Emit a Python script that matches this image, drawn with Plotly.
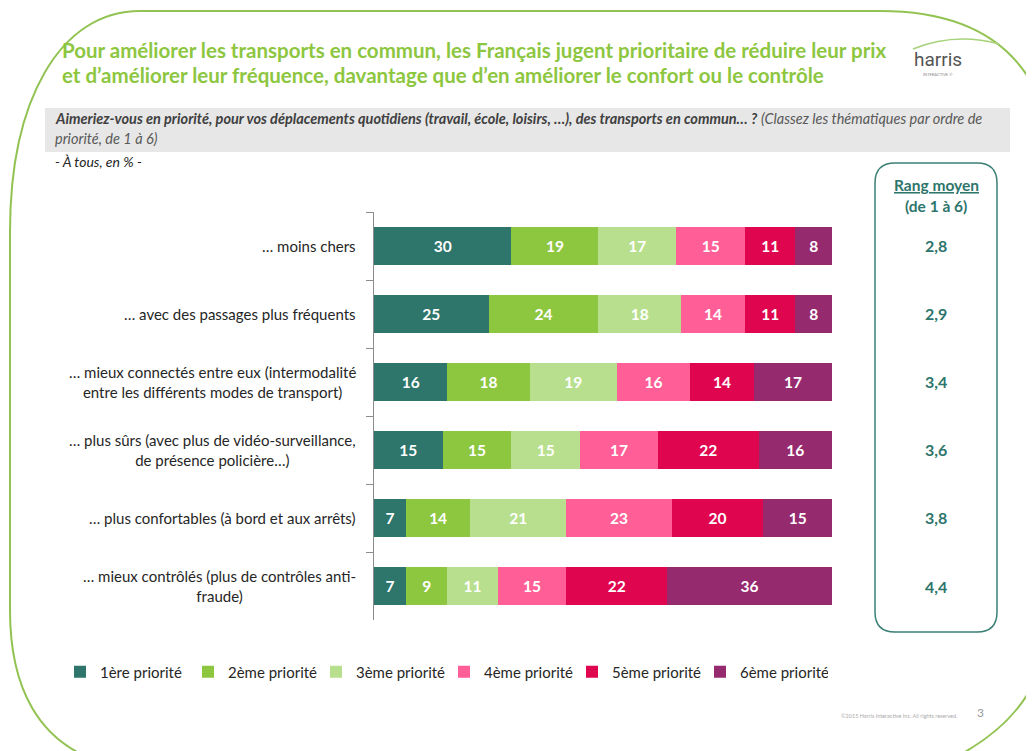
import plotly.graph_objects as go

# page is rendered with an 8px body margin: figure fills the rest of the window
OFF = 8
W, H = 1034 - OFF, 751 - OFF

categories = [
    "… moins chers",
    "… avec des passages plus fréquents",
    "… mieux connectés entre eux (intermodalité<br>entre les différents modes de transport)",
    "… plus sûrs (avec plus de vidéo-surveillance,<br>de présence policière…)",
    "… plus confortables (à bord et aux arrêts)",
    "… mieux contrôlés (plus de contrôles anti-<br>fraude)",
]
series_names = ["1ère priorité", "2ème priorité", "3ème priorité",
                "4ème priorité", "5ème priorité", "6ème priorité"]
p1 = [30, 25, 16, 15, 7, 7]
p2 = [19, 24, 18, 15, 14, 9]
p3 = [17, 18, 19, 15, 21, 11]
p4 = [15, 14, 16, 17, 23, 15]
p5 = [11, 11, 14, 22, 20, 22]
p6 = [8, 8, 17, 16, 15, 36]
rang_moyen = ["2,8", "2,9", "3,4", "3,6", "3,8", "4,4"]

colors = ["#2E756B", "#8DC63F", "#B8DF8E", "#FF5F96", "#E0054F", "#962A6E"]
FONT = "Lato"
TEAL = "#2E756B"
cat_keys = [f"c{i}" for i in range(len(categories))]


def px(x):
    return (x - OFF) / W


def py(y):
    return 1 - (y - OFF) / H


def path(cmds):
    out = []
    for c in cmds:
        if isinstance(c, str):
            out.append(c)
        else:
            out.append(f"{px(c[0]):.5f},{py(c[1]):.5f}")
    return " ".join(out)


fig = go.Figure()
for name, vals, col in zip(series_names, [p1, p2, p3, p4, p5, p6], colors):
    fig.add_trace(go.Bar(
        name=name, y=cat_keys, x=vals, orientation="h",
        marker=dict(color=col, line=dict(width=0)),
        text=vals, texttemplate="<b>%{text}</b>", textposition="inside",
        insidetextanchor="middle", textangle=0,
        textfont=dict(family=FONT, size=15.5, color="white"),
        hoverinfo="x+name",
    ))

shapes = []
# slide frame
shapes.append(dict(type="path", xref="paper", yref="paper",
                   path=path(["M", (95, 760), "C", (40, 740), (10, 690), (10, 610),
                              "L", (10, 232), "C", (10, 100), (60, 11), (140, 11),
                              "L", (880, 11), "C", (960, 11), (1015, 40), (1040, 100),
                              "L", (1045, 650), "C", (1035, 700), (1000, 735), (950, 760)]),
                   line=dict(color="#92C352", width=2)))
# gray band
shapes.append(dict(type="rect", xref="paper", yref="paper",
                   x0=px(45), x1=px(1010), y0=py(152), y1=py(108),
                   fillcolor="#E7E7E7", line=dict(width=0), layer="below"))
# rounded box
x0, x1, y0, y1, r = 875, 997, 163, 632, 20
shapes.append(dict(type="path", xref="paper", yref="paper",
                   path=path(["M", (x0 + r, y0), "L", (x1 - r, y0), "Q", (x1, y0), (x1, y0 + r),
                              "L", (x1, y1 - r), "Q", (x1, y1), (x1 - r, y1),
                              "L", (x0 + r, y1), "Q", (x0, y1), (x0, y1 - r),
                              "L", (x0, y0 + r), "Q", (x0, y0), (x0 + r, y0), "Z"]),
                   line=dict(color="#3A7F74", width=1.5)))
# logo swoosh
shapes.append(dict(type="path", xref="paper", yref="paper",
                   path=path(["M", (913, 49), "Q", (955, 32), (999, 44)]),
                   line=dict(color="#A8D27A", width=1.5)))

ann = []


def A(text, x, y, size, color, xanchor="left", align="left", **kw):
    ann.append(dict(text=text, x=px(x), y=py(y), xref="paper", yref="paper",
                    xanchor=xanchor, yanchor="middle", align=align, showarrow=False,
                    font=dict(family=kw.pop("family", FONT), size=size, color=color), **kw))


GREEN = "#8DC63F"
A("<b>Pour améliorer les transports en commun, les Français jugent prioritaire de réduire leur prix</b>",
  60, 50, 20.5, GREEN)
A("<b>et d’améliorer leur fréquence, davantage que d’en améliorer le confort ou le contrôle</b>",
  60, 75, 20.5, GREEN)
A("harris", 938, 60, 19, "#555555", xanchor="center", family="Liberation Sans Narrow, Roboto")
A("INTERACTIVE ®", 938, 75, 4, "#888888", xanchor="center")
A("<b><i>Aimeriez-vous en priorité, pour vos déplacements quotidiens (travail, école, loisirs, …), des transports en commun… ?</i></b>"
  " <span style='color:#595959'><i>(Classez les thématiques par ordre de</i></span>",
  53, 119, 14.5, "#404040")
A("<i>priorité, de 1 à 6)</i>", 53, 138, 14.5, "#595959")
A("<i>- À tous, en % -</i>", 53, 161, 14, "#262626")
A("<b><u>Rang moyen</u></b>", 936, 185, 15.5, TEAL, xanchor="center")
A("<b>(de 1 à 6)</b>", 936, 206, 15.5, TEAL, xanchor="center")
A("©2015 Harris Interactive Inc. All rights reserved.", 899, 716, 5.5, "#AAAAAA", xanchor="center")
A("3", 980, 712, 12, "#999999", xanchor="center")

for k, lab, rv in zip(cat_keys, categories, rang_moyen):
    ann.append(dict(text=lab, x=px(358), y=k, xref="paper", yref="y",
                    xanchor="right", yanchor="middle", align="center", showarrow=False,
                    font=dict(family=FONT, size=15, color="#262626")))
    ann.append(dict(text=f"<b>{rv}</b>", x=px(936), y=k, xref="paper", yref="y",
                    xanchor="center", yanchor="middle", showarrow=False,
                    font=dict(family=FONT, size=16, color=TEAL)))

fig.update_layout(
    width=W, height=H, autosize=False,
    margin=dict(l=0, r=0, t=0, b=0),
    paper_bgcolor="white", plot_bgcolor="white",
    barmode="stack", bargap=0.44,
    font=dict(family=FONT, size=15, color="#262626"),
    showlegend=True,
    legend=dict(orientation="h", x=px(60), y=py(672), xanchor="left", yanchor="middle",
                entrywidth=83, entrywidthmode="pixels", traceorder="normal",
                font=dict(family=FONT, size=15, color="#262626"),
                bgcolor="rgba(0,0,0,0)"),
    xaxis=dict(domain=[px(374), px(832)], range=[0, 100], visible=False, fixedrange=True),
    yaxis=dict(domain=[py(620), py(212)], categoryorder="array", categoryarray=cat_keys,
               autorange="reversed", showticklabels=False, showline=True,
               linecolor="#8C8C8C", linewidth=1, ticks="outside", ticklen=7,
               tickcolor="#8C8C8C", tickson="boundaries", showgrid=False, zeroline=False,
               fixedrange=True),
    shapes=shapes, annotations=ann,
)

fig.write_html("out.html")
